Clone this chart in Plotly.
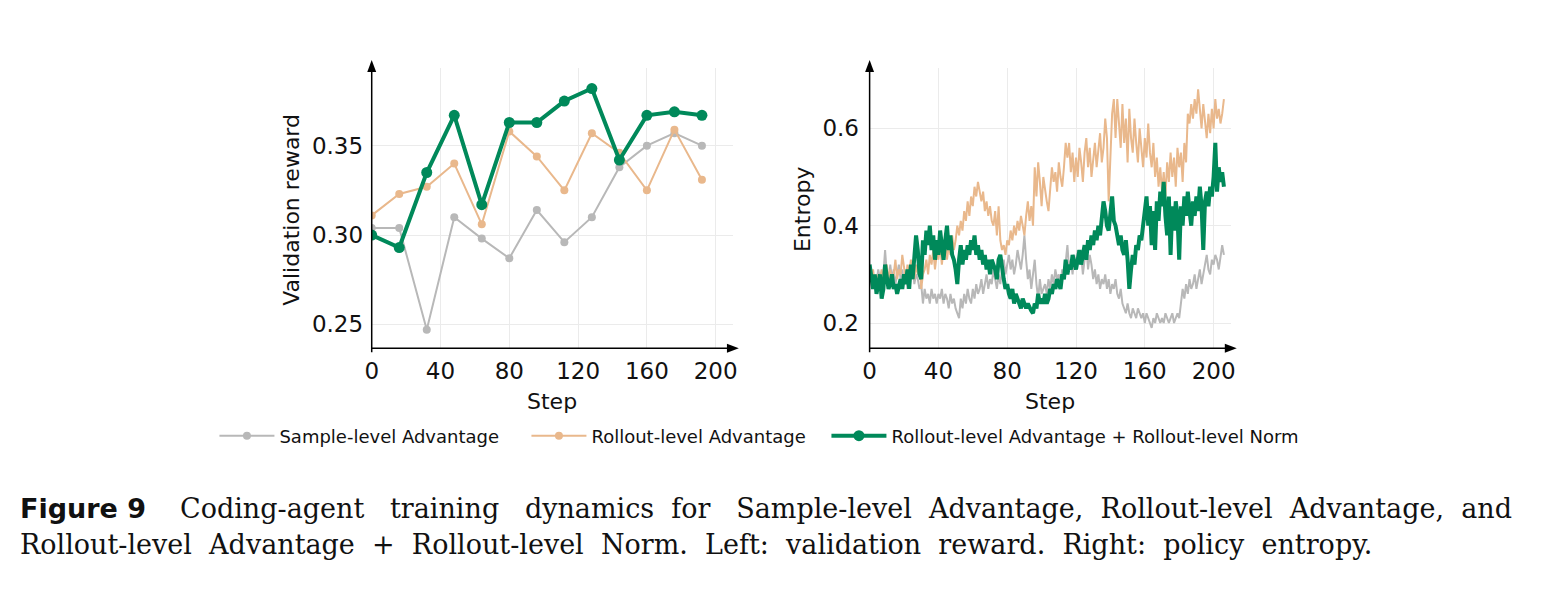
import plotly.graph_objects as go

W, H = 1546, 596
OFF = 8  # body margin of the html page

GRAY = "#b8b8b8"
ORANGE = "#e9b88c"
GREEN = "#00895a"

# ---- left panel: validation reward, evaluated every 16 steps ----
val_steps = [0, 16, 32, 48, 64, 80, 96, 112, 128, 144, 160, 176, 192]
val_sample = [0.304, 0.304, 0.247, 0.310, 0.298, 0.287, 0.314, 0.296, 0.310,
              0.338, 0.350, 0.357, 0.350]
val_rollout = [0.311, 0.323, 0.327, 0.340, 0.306, 0.358, 0.344, 0.325, 0.357,
               0.346, 0.325, 0.359, 0.331]
val_norm = [0.300, 0.293, 0.335, 0.367, 0.317, 0.363, 0.363, 0.375, 0.382,
            0.342, 0.367, 0.369, 0.367]

# ---- right panel: policy entropy per step (0..206) ----
ent_sample = [
    0.31, 0.29, 0.27, 0.30, 0.28, 0.31, 0.29, 0.27, 0.30, 0.35,
    0.30, 0.28, 0.32, 0.29, 0.31, 0.28, 0.30, 0.32, 0.29, 0.31,
    0.28, 0.30, 0.27, 0.31, 0.29, 0.32, 0.28, 0.30, 0.29, 0.27,
    0.28, 0.24, 0.27, 0.25, 0.26, 0.24, 0.27, 0.25, 0.26, 0.24,
    0.26, 0.25, 0.27, 0.24, 0.26, 0.25, 0.23, 0.26, 0.24, 0.25,
    0.23, 0.22, 0.21, 0.25, 0.23, 0.26, 0.24, 0.27, 0.25, 0.24,
    0.27, 0.25, 0.28, 0.26, 0.27, 0.29, 0.26, 0.28, 0.30, 0.27,
    0.29, 0.28, 0.31, 0.29, 0.27, 0.30, 0.28, 0.31, 0.33, 0.30,
    0.32, 0.34, 0.31, 0.33, 0.30, 0.32, 0.35, 0.33, 0.31, 0.34,
    0.38, 0.33, 0.29, 0.31, 0.27, 0.30, 0.33, 0.28, 0.25, 0.29,
    0.26, 0.27, 0.28, 0.26, 0.29, 0.27, 0.30, 0.28, 0.31, 0.29,
    0.30, 0.28, 0.31, 0.29, 0.32, 0.36, 0.31, 0.33, 0.30, 0.34,
    0.31, 0.35, 0.32, 0.34, 0.30, 0.33, 0.36, 0.31, 0.34, 0.32,
    0.29, 0.31, 0.28, 0.30, 0.27, 0.29, 0.28, 0.30, 0.27, 0.29,
    0.26, 0.28, 0.27, 0.29, 0.26, 0.25, 0.27, 0.24, 0.23, 0.22,
    0.24, 0.22, 0.21, 0.23, 0.22, 0.21, 0.23, 0.22, 0.21, 0.22,
    0.20, 0.22, 0.21, 0.20, 0.19, 0.21, 0.20, 0.22, 0.21, 0.20,
    0.21, 0.20, 0.22, 0.21, 0.20, 0.21, 0.22, 0.20, 0.21, 0.22,
    0.21, 0.24, 0.27, 0.25, 0.28, 0.26, 0.29, 0.27, 0.28, 0.30,
    0.27, 0.29, 0.31, 0.28, 0.30, 0.32, 0.34, 0.31, 0.30, 0.33,
    0.32, 0.34, 0.33, 0.31, 0.34, 0.36, 0.34,
]
ent_rollout = [
    0.30, 0.29, 0.31, 0.28, 0.30, 0.27, 0.29, 0.31, 0.28, 0.30,
    0.32, 0.29, 0.31, 0.28, 0.30, 0.33, 0.29, 0.31, 0.30, 0.34,
    0.31, 0.29, 0.32, 0.30, 0.33, 0.31, 0.29, 0.32, 0.30, 0.33,
    0.27, 0.30, 0.31, 0.33, 0.30, 0.34, 0.32, 0.35, 0.31, 0.34,
    0.33, 0.36, 0.32, 0.35, 0.37, 0.33, 0.36, 0.34, 0.38, 0.35,
    0.37, 0.40, 0.38, 0.41, 0.39, 0.43, 0.41, 0.45, 0.42, 0.46,
    0.44, 0.48, 0.46, 0.49, 0.47, 0.45, 0.47, 0.43, 0.45, 0.42,
    0.44, 0.41, 0.40, 0.43, 0.38, 0.44, 0.37, 0.35, 0.36, 0.34,
    0.37, 0.36, 0.39, 0.37, 0.40, 0.38, 0.41, 0.39, 0.42, 0.40,
    0.38, 0.42, 0.45, 0.41, 0.44, 0.40, 0.52, 0.46, 0.53, 0.49,
    0.44, 0.50, 0.47, 0.45, 0.43, 0.48, 0.52, 0.49, 0.51, 0.47,
    0.53, 0.50, 0.48, 0.52, 0.57, 0.54, 0.57, 0.51, 0.55, 0.49,
    0.54, 0.50, 0.56, 0.53, 0.49, 0.55, 0.58, 0.52, 0.56, 0.50,
    0.54, 0.57, 0.52, 0.55, 0.59, 0.53, 0.56, 0.62, 0.58, 0.45,
    0.55, 0.63, 0.66, 0.58, 0.66, 0.60, 0.56, 0.65, 0.57, 0.62,
    0.53, 0.64, 0.58, 0.55, 0.62, 0.57, 0.53, 0.60, 0.56, 0.52,
    0.58, 0.54, 0.61, 0.55, 0.52, 0.57, 0.50, 0.54, 0.48, 0.52,
    0.47, 0.51, 0.46, 0.53, 0.49, 0.55, 0.50, 0.54, 0.48, 0.56,
    0.52, 0.55, 0.49, 0.57, 0.53, 0.63, 0.61, 0.65, 0.62, 0.66,
    0.63, 0.68, 0.64, 0.60, 0.65, 0.61, 0.58, 0.63, 0.59, 0.64,
    0.60, 0.66, 0.62, 0.64, 0.61, 0.63, 0.66,
]
ent_norm = [
    0.32, 0.29, 0.27, 0.30, 0.26, 0.28, 0.30, 0.25, 0.27, 0.32,
    0.29, 0.27, 0.28, 0.30, 0.27, 0.28, 0.26, 0.28, 0.29, 0.27,
    0.30, 0.28, 0.31, 0.27, 0.32, 0.29, 0.33, 0.38, 0.35, 0.30,
    0.29, 0.37, 0.34, 0.39, 0.36, 0.40, 0.35, 0.38, 0.33, 0.37,
    0.34, 0.39, 0.36, 0.33, 0.37, 0.40, 0.35, 0.38, 0.34, 0.33,
    0.31, 0.28, 0.33, 0.36, 0.32, 0.35, 0.33, 0.36, 0.34, 0.37,
    0.35, 0.38, 0.34, 0.36, 0.33, 0.35, 0.32, 0.34, 0.31, 0.33,
    0.30, 0.33, 0.32, 0.31, 0.29, 0.33, 0.34, 0.31, 0.29, 0.27,
    0.28, 0.26, 0.25, 0.27, 0.24, 0.26, 0.25, 0.24, 0.23, 0.25,
    0.24, 0.23, 0.24, 0.23, 0.225, 0.22, 0.24, 0.23, 0.26, 0.24,
    0.25, 0.24, 0.26, 0.24, 0.25, 0.27, 0.26, 0.28, 0.27, 0.29,
    0.28, 0.27, 0.30, 0.29, 0.33, 0.30, 0.32, 0.31, 0.34, 0.32,
    0.31, 0.33, 0.35, 0.32, 0.34, 0.36, 0.33, 0.37, 0.35, 0.38,
    0.36, 0.39, 0.37, 0.40, 0.38, 0.42, 0.45, 0.43, 0.40, 0.39,
    0.42, 0.46, 0.41, 0.40, 0.38, 0.36, 0.38, 0.35, 0.34, 0.37,
    0.33, 0.27, 0.31, 0.34, 0.32, 0.36, 0.35, 0.38, 0.37, 0.40,
    0.42, 0.46, 0.40, 0.44, 0.36, 0.43, 0.35, 0.45, 0.41, 0.47,
    0.44, 0.49, 0.42, 0.38, 0.46, 0.34, 0.44, 0.39, 0.45, 0.42,
    0.33, 0.44, 0.40, 0.46, 0.42, 0.47, 0.43, 0.40, 0.45, 0.42,
    0.46, 0.43, 0.48, 0.44, 0.35, 0.45, 0.47, 0.44, 0.48, 0.46,
    0.50, 0.57, 0.47, 0.52, 0.49, 0.51, 0.48,
]
ent_steps = list(range(len(ent_norm)))

names = ["Sample-level Advantage", "Rollout-level Advantage",
         "Rollout-level Advantage + Rollout-level Norm"]

x_ticks = [0, 40, 80, 120, 160, 200]
val_ticks = [0.25, 0.30, 0.35]
ent_ticks = [0.2, 0.4, 0.6]

SANS = "DejaVu Sans, Verdana, sans-serif"
SERIF = "DejaVu Serif, serif"
NB = "\u00a0"


def px(x, y):
    # screen pixel -> paper coords (page has an 8px body margin)
    return (x - OFF) / W, 1 - (y - OFF) / H


fig = go.Figure()

# left panel
fig.add_trace(go.Scatter(x=val_steps, y=val_sample, name=names[0], mode="lines+markers",
                         line=dict(color=GRAY, width=2), marker=dict(size=8, color=GRAY),
                         xaxis="x", yaxis="y", legendwidth=242))
fig.add_trace(go.Scatter(x=val_steps, y=val_rollout, name=names[1], mode="lines+markers",
                         line=dict(color=ORANGE, width=2), marker=dict(size=8, color=ORANGE),
                         xaxis="x", yaxis="y", legendwidth=230))
fig.add_trace(go.Scatter(x=val_steps, y=val_norm, name=names[2], mode="lines+markers",
                         line=dict(color=GREEN, width=4), marker=dict(size=11, color=GREEN),
                         xaxis="x", yaxis="y"))

# right panel
fig.add_trace(go.Scatter(x=ent_steps, y=ent_sample, mode="lines", showlegend=False,
                         line=dict(color=GRAY, width=2), xaxis="x2", yaxis="y2"))
fig.add_trace(go.Scatter(x=ent_steps, y=ent_rollout, mode="lines", showlegend=False,
                         line=dict(color=ORANGE, width=2), xaxis="x2", yaxis="y2"))
fig.add_trace(go.Scatter(x=ent_steps, y=ent_norm, mode="lines", showlegend=False,
                         line=dict(color=GREEN, width=4), xaxis="x2", yaxis="y2"))

# panel geometry in screen pixels
LX0, LX1 = 367.5, 731.5
RX0, RX1 = 869.3, 1233.3
YB, YT = 348.3, 68

ax_common = dict(showgrid=True, gridcolor="#ebebeb", gridwidth=1, zeroline=False,
                 showline=False, tickfont=dict(family=SANS, size=23, color="#111"),
                 ticks="outside", tickcolor="rgba(0,0,0,0)")

fig.update_layout(
    width=W, height=H,
    paper_bgcolor="white", plot_bgcolor="white",
    margin=dict(l=0, r=0, t=0, b=0),
    font=dict(family=SANS, color="#111"),
    xaxis=dict(domain=[px(LX0, 0)[0], px(LX1, 0)[0]], range=[0, 210], tickvals=x_ticks,
               anchor="y", ticklen=2, **ax_common),
    yaxis=dict(domain=[px(0, YB)[1], px(0, YT)[1]], range=[0.2366, 0.3935],
               tickvals=val_ticks, tickformat=".2f", anchor="x", ticklen=3, **ax_common),
    xaxis2=dict(domain=[px(RX0, 0)[0], px(RX1, 0)[0]], range=[0, 210], tickvals=x_ticks,
                anchor="y2", ticklen=2, **ax_common),
    yaxis2=dict(domain=[px(0, YB)[1], px(0, YT)[1]], range=[0.148, 0.724],
                tickvals=ent_ticks, tickformat=".1f", anchor="x2", ticklen=5, **ax_common),
    legend=dict(orientation="h", x=px(209, 0)[0], xanchor="left", y=px(0, 436)[1],
                yanchor="middle", itemwidth=55,
                font=dict(family=SANS, size=18, color="#111"),
                bgcolor="rgba(0,0,0,0)"),
)

# axis spines with arrow heads
shapes = []
for x0, x1 in [(LX0, LX1), (RX0, RX1)]:
    a, c = px(x0, YB + 4), px(x0, 64)
    shapes.append(dict(type="line", xref="paper", yref="paper", x0=a[0], y0=a[1],
                       x1=c[0], y1=c[1], line=dict(color="black", width=1.5)))
    a, c = px(x0, YB), px(x1 + 2, YB)
    shapes.append(dict(type="line", xref="paper", yref="paper", x0=a[0], y0=a[1],
                       x1=c[0], y1=c[1], line=dict(color="black", width=1.5)))
    t, l, r = px(x0, 60), px(x0 - 4.5, 72), px(x0 + 4.5, 72)
    shapes.append(dict(type="path", xref="paper", yref="paper",
                       path=f"M{t[0]},{t[1]} L{l[0]},{l[1]} L{r[0]},{r[1]} Z",
                       fillcolor="black", line=dict(color="black", width=0)))
    t, u, v = px(x1 + 6, YB), px(x1 - 6, YB - 4.5), px(x1 - 6, YB + 4.5)
    shapes.append(dict(type="path", xref="paper", yref="paper",
                       path=f"M{t[0]},{t[1]} L{u[0]},{u[1]} L{v[0]},{v[1]} Z",
                       fillcolor="black", line=dict(color="black", width=0)))
fig.update_layout(shapes=shapes)


def label(text, x, y, angle=0, size=22, family=SANS, xanchor="center", bold=False):
    xx, yy = px(x, y)
    fig.add_annotation(text=f"<b>{text}</b>" if bold else text, x=xx, y=yy,
                       xref="paper", yref="paper", showarrow=False, textangle=angle,
                       xanchor=xanchor, yanchor="middle", borderpad=0,
                       font=dict(family=family, size=size, color="#111"))


# axis titles
label("Validation reward", 286, 210, angle=-90)
label("Entropy", 801.7, 209.5, angle=-90)
label("Step", (LX0 + LX1) / 2, 401)
label("Step", (RX0 + RX1) / 2, 401)

# caption (first line justified with wider word gaps)
line1 = ["Coding-agent", "training", "dynamics", "for", "Sample-level", "Advantage,",
         "Rollout-level", "Advantage,", "and"]
wide = " " + NB * 2
narrow = " " + NB
gaps = [wide, wide, narrow, wide, narrow, narrow, narrow, narrow]
text1 = line1[0] + "".join(g + w for g, w in zip(gaps, line1[1:]))
line2 = "Rollout-level Advantage + Rollout-level Norm. Left: validation reward. Right: policy entropy."
text2 = line2.replace(" ", narrow)

label("Figure 9", 12, 508, size=27, xanchor="left", bold=True)
label(text1, 173, 508, size=27, family=SERIF, xanchor="left")
label(text2, 12, 544, size=27, family=SERIF, xanchor="left")

fig.write_html("out.html")
